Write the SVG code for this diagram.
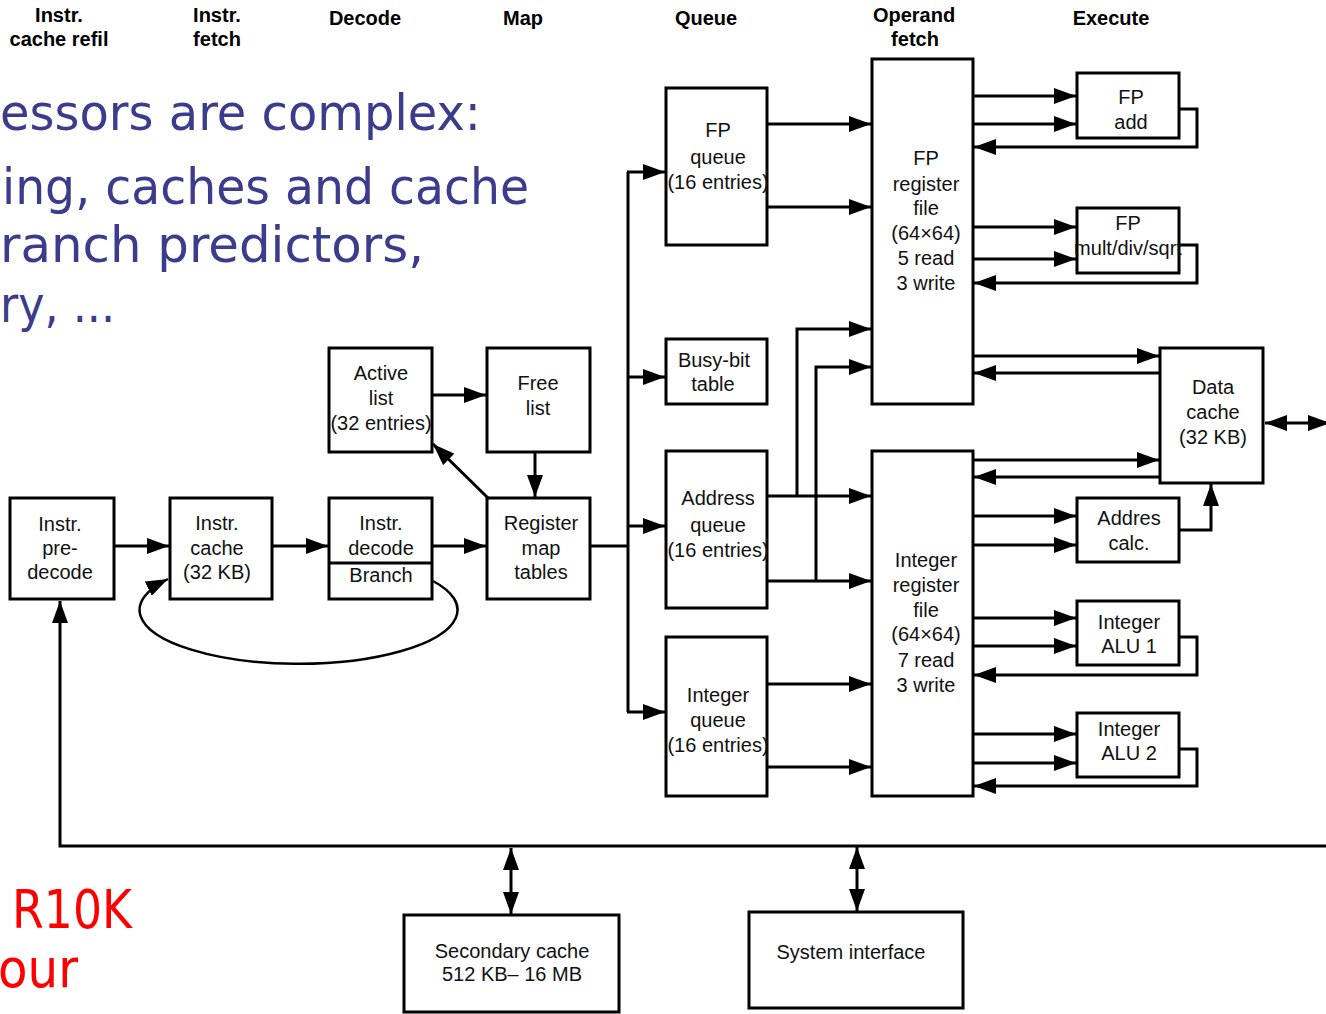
<svg xmlns="http://www.w3.org/2000/svg" width="1326" height="1014" viewBox="0 0 1326 1014">
<defs>
<marker id="a" markerUnits="userSpaceOnUse" markerWidth="22" markerHeight="16" refX="22" refY="8" orient="auto-start-reverse" viewBox="0 0 22 16"><path d="M0,0 L22,8 L0,16 z" fill="#000"/></marker>
<style>
.box{fill:#fff;stroke:#000;stroke-width:3}
.t{font-family:"Liberation Sans",Arial,sans-serif;font-size:20px;fill:#111;text-anchor:middle}
.h{font-family:"Liberation Sans",Arial,sans-serif;font-size:20px;font-weight:bold;fill:#000;text-anchor:middle}
.big{font-family:"DejaVu Sans","Noto Sans",sans-serif;font-size:50px;fill:#3c3c8c}
.red{font-family:"DejaVu Sans","Noto Sans",sans-serif;font-size:54px;fill:#ff0000}
.c{fill:none;stroke:#000;stroke-width:3}
.ar{marker-end:url(#a)}
.bi{marker-start:url(#a);marker-end:url(#a)}
</style>
</defs>
<rect width="1326" height="1014" fill="#fff"/>

<g id="headers">
<text class="h" x="59" y="22">Instr.</text><text class="h" x="59" y="46">cache refil</text>
<text class="h" x="217" y="22">Instr.</text><text class="h" x="217" y="46">fetch</text>
<text class="h" x="365" y="25">Decode</text>
<text class="h" x="523" y="25">Map</text>
<text class="h" x="706" y="25">Queue</text>
<text class="h" x="914" y="22">Operand</text><text class="h" x="915" y="46">fetch</text>
<text class="h" x="1111" y="25">Execute</text>
</g>

<g id="slide-text">
<text class="big" x="0" y="130" textLength="481" lengthAdjust="spacingAndGlyphs">essors are complex:</text>
<text class="big" x="2" y="204" textLength="527" lengthAdjust="spacingAndGlyphs">ing, caches and cache</text>
<text class="big" x="0" y="262" textLength="424" lengthAdjust="spacingAndGlyphs">ranch predictors,</text>
<text class="big" x="0" y="322" textLength="115" lengthAdjust="spacingAndGlyphs">ry, ...</text>
<text class="red" x="12" y="928" textLength="120" lengthAdjust="spacingAndGlyphs">R10K</text>
<text class="red" x="-2" y="987" textLength="80" lengthAdjust="spacingAndGlyphs">our</text>
</g>

<g id="connectors">
<path class="c ar" d="M114,546 H169"/>
<path class="c ar" d="M272,546 H328"/>
<path class="c ar" d="M432,546 H486"/>
<path class="c ar" d="M432,395 H486"/>
<path class="c ar" d="M535,452 V497"/>
<path class="c ar" d="M488,498 L433,444"/>
<path fill="none" stroke="#000" stroke-width="2.5" marker-end="url(#a)" d="M433,581 A159,54 0 1 1 168,579"/>
<path class="c" d="M590,546 H628"/>
<path class="c" d="M628,172 V712"/>
<path class="c ar" d="M627,172 H665"/>
<path class="c ar" d="M628,377 H665"/>
<path class="c ar" d="M628,526 H665"/>
<path class="c ar" d="M627,712 H665"/>
<path class="c ar" d="M767,124 H871"/>
<path class="c ar" d="M767,207 H871"/>
<path class="c ar" d="M767,496 H871"/>
<path class="c ar" d="M767,581 H871"/>
<path class="c ar" d="M797,496 V329 H871"/>
<path class="c ar" d="M816,581 V367 H871"/>
<path class="c ar" d="M767,684 H871"/>
<path class="c ar" d="M767,767 H871"/>
<path class="c ar" d="M973,96 H1076"/>
<path class="c ar" d="M973,124 H1076"/>
<path class="c ar" d="M1179,109 H1197 V147 H974"/>
<path class="c ar" d="M973,227 H1076"/>
<path class="c ar" d="M973,259 H1076"/>
<path class="c ar" d="M1179,245 H1197 V283 H974"/>
<path class="c ar" d="M973,356 H1159"/>
<path class="c ar" d="M1160,373 H974"/>
<path class="c ar" d="M973,460 H1159"/>
<path class="c ar" d="M1160,477 H974"/>
<path class="c ar" d="M973,516 H1076"/>
<path class="c ar" d="M973,545 H1076"/>
<path class="c ar" d="M1179,530 H1211 V484"/>
<path class="c ar" d="M973,618 H1076"/>
<path class="c ar" d="M973,646 H1076"/>
<path class="c ar" d="M1179,637 H1197 V675 H974"/>
<path class="c ar" d="M973,734 H1076"/>
<path class="c ar" d="M973,763 H1076"/>
<path class="c ar" d="M1179,749 H1197 V786 H974"/>
<path class="c bi" d="M1265,423 H1330"/>
<path class="c ar" d="M1330,846 H60 V601"/>
<path class="c bi" d="M511,848 V914"/>
<path class="c bi" d="M857,847 V911"/>
</g>

<g id="predecode"><rect class="box" x="10" y="498" width="104" height="101"/>
<text class="t" x="60" y="531">Instr.</text><text class="t" x="60" y="555">pre-</text><text class="t" x="60" y="579">decode</text></g>

<g id="icache"><rect class="box" x="170" y="498" width="102" height="101"/>
<text class="t" x="217" y="530">Instr.</text><text class="t" x="217" y="555">cache</text><text class="t" x="217" y="579">(32 KB)</text></g>

<g id="idecode"><rect class="box" x="329" y="498" width="103" height="101"/>
<line x1="329" y1="563" x2="432" y2="563" stroke="#000" stroke-width="3"/>
<text class="t" x="381" y="530">Instr.</text><text class="t" x="381" y="555">decode</text><text class="t" x="381" y="582">Branch</text></g>

<g id="activelist"><rect class="box" x="329" y="348" width="103" height="104"/>
<text class="t" x="381" y="380">Active</text><text class="t" x="381" y="405">list</text><text class="t" x="381" y="430">(32 entries)</text></g>

<g id="freelist"><rect class="box" x="487" y="348" width="103" height="104"/>
<text class="t" x="538" y="390">Free</text><text class="t" x="538" y="415">list</text></g>

<g id="regmap"><rect class="box" x="487" y="498" width="103" height="101"/>
<text class="t" x="541" y="530">Register</text><text class="t" x="541" y="555">map</text><text class="t" x="541" y="579">tables</text></g>

<g id="fpqueue"><rect class="box" x="666" y="88" width="101" height="157"/>
<text class="t" x="718" y="137">FP</text><text class="t" x="718" y="164">queue</text><text class="t" x="718" y="189">(16 entries)</text></g>

<g id="busybit"><rect class="box" x="666" y="339" width="101" height="65"/>
<text class="t" x="714" y="367">Busy-bit</text><text class="t" x="713" y="391">table</text></g>

<g id="addrqueue"><rect class="box" x="666" y="451" width="101" height="157"/>
<text class="t" x="718" y="505">Address</text><text class="t" x="718" y="532">queue</text><text class="t" x="718" y="557">(16 entries)</text></g>

<g id="intqueue"><rect class="box" x="666" y="637" width="101" height="159"/>
<text class="t" x="718" y="702">Integer</text><text class="t" x="718" y="727">queue</text><text class="t" x="718" y="752">(16 entries)</text></g>

<g id="fpregfile"><rect class="box" x="872" y="59" width="101" height="345"/>
<text class="t" x="926" y="165">FP</text><text class="t" x="926" y="191">register</text><text class="t" x="926" y="215">file</text><text class="t" x="926" y="240">(64×64)</text><text class="t" x="926" y="265">5 read</text><text class="t" x="926" y="290">3 write</text></g>

<g id="intregfile"><rect class="box" x="872" y="451" width="101" height="345"/>
<text class="t" x="926" y="567">Integer</text><text class="t" x="926" y="592">register</text><text class="t" x="926" y="617">file</text><text class="t" x="926" y="641">(64×64)</text><text class="t" x="926" y="667">7 read</text><text class="t" x="926" y="692">3 write</text></g>

<g id="fpadd"><rect class="box" x="1077" y="73" width="102" height="65"/>
<text class="t" x="1131" y="104">FP</text><text class="t" x="1131" y="129">add</text></g>

<g id="fpmult"><rect class="box" x="1077" y="208" width="102" height="65"/>
<text class="t" x="1128" y="230">FP</text><text class="t" x="1128" y="255">mult/div/sqrt</text></g>

<g id="datacache"><rect class="box" x="1160" y="348" width="103" height="135"/>
<text class="t" x="1213" y="394">Data</text><text class="t" x="1213" y="419">cache</text><text class="t" x="1213" y="444">(32 KB)</text></g>

<g id="addrcalc"><rect class="box" x="1077" y="498" width="102" height="64"/>
<text class="t" x="1129" y="525">Addres</text><text class="t" x="1129" y="550">calc.</text></g>

<g id="alu1"><rect class="box" x="1077" y="601" width="102" height="64"/>
<text class="t" x="1129" y="629">Integer</text><text class="t" x="1129" y="653">ALU 1</text></g>

<g id="alu2"><rect class="box" x="1077" y="713" width="102" height="64"/>
<text class="t" x="1129" y="736">Integer</text><text class="t" x="1129" y="760">ALU 2</text></g>

<g id="l2cache"><rect class="box" x="404" y="915" width="215" height="97"/>
<text class="t" x="512" y="958">Secondary cache</text><text class="t" x="512" y="981">512 KB– 16 MB</text></g>

<g id="sysif"><rect class="box" x="749" y="912" width="214" height="96"/>
<text class="t" x="851" y="959">System interface</text></g>
</svg>
